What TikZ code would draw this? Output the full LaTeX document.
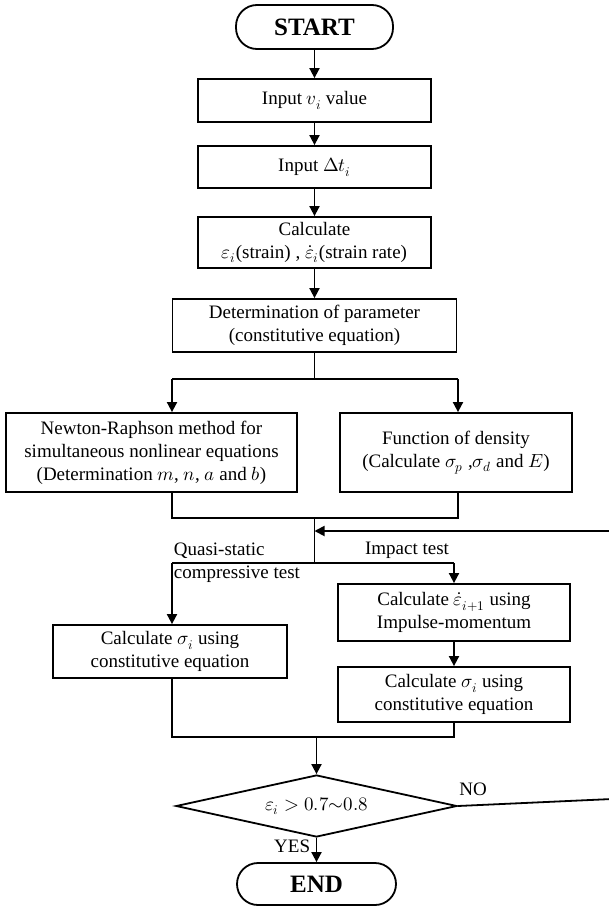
\documentclass[tikz,border=0pt]{standalone}
\usepackage{fontspec}
\usepackage{unicode-math}
\setmainfont{Liberation Serif}
\setmathfont{Latin Modern Math}
\usetikzlibrary{arrows.meta,shapes.geometric}

\tikzset{
  box/.style={draw,rectangle,align=center,inner sep=0pt},
  pill/.style={draw,rectangle,rounded corners=21pt,inner sep=0pt,font=\fontsize{25}{28}\selectfont\bfseries},
  decision/.style={draw,diamond,aspect=4.5,inner sep=0pt},
  lbl/.style={inner sep=1pt,align=left},
  arr/.style={-{Triangle[length=10pt,width=10pt]}}
}

\begin{document}
\begin{tikzpicture}[x=1pt,y=-1pt,line width=1.8pt,font=\fontsize{19}{23}\selectfont]
\useasboundingbox (0,0) rectangle (608,907);

\node (start) at (314.5,27) [pill,minimum width=157pt,minimum height=44pt]{START};
\node (inv) at (314.5,100.5) [box,minimum width=233pt,minimum height=43pt]{Input $v_i$ value};
\node (indt) at (314.5,167) [box,minimum width=233pt,minimum height=42pt]{Input $\Delta t_i$};
\node (calc) at (314.5,242.5) [box,minimum width=233pt,minimum height=51pt]{Calculate\\$\varepsilon_i$(strain) , $\dot{\varepsilon}_i$(strain rate)};
\node (det) at (314.5,325.5) [box,minimum width=284pt,minimum height=53pt]{Determination of parameter\\(constitutive equation)};

\node (newt) at (151.5,452.5) [box,minimum width=291pt,minimum height=79pt]{Newton-Raphson method for\\simultaneous nonlinear equations\\(Determination $m$, $n$, $a$ and $b$)};
\node (dens) at (456,452.5) [box,minimum width=232pt,minimum height=79pt]{Function of density\\(Calculate $\sigma_p$ ,$\sigma_d$ and $E$)};

\node (quasi) at (170,651.5) [box,minimum width=234pt,minimum height=53pt]{Calculate $\sigma_i$ using\\constitutive equation};
\node (imp) at (454,612.5) [box,minimum width=232pt,minimum height=57pt]{Calculate $\dot{\varepsilon}_{i+1}$ using\\Impulse-momentum};
\node (sig) at (454,694.5) [box,minimum width=232pt,minimum height=55pt]{Calculate $\sigma_i$ using\\constitutive equation};

\node (dec) at (316.5,806) [decision,minimum width=281pt,minimum height=62pt]{$\varepsilon_i > 0.7{\sim}0.8$};
\node (end) at (316.5,884) [pill,minimum width=159pt,minimum height=42pt]{END};

% junction points
\coordinate (s) at (314.5,379);
\coordinate (sl) at (172,379);
\coordinate (sr) at (458,379);
\coordinate (jl) at (172,518);
\coordinate (jr) at (458,518);
\coordinate (j) at (314.5,518);
\coordinate (fb) at (314.5,531);
\coordinate (fr) at (612,531);
\coordinate (b) at (314.5,563);
\coordinate (bl) at (172,563);
\coordinate (br) at (454,563);
\coordinate (kl) at (172,737);
\coordinate (kr) at (454,737);
\coordinate (k) at (316.5,737);
\coordinate (nr) at (612,799);

\node (qtxt) at (bl) [lbl,anchor=west]{Quasi-static\\compressive test};
\node (itxt) at (407,550) [lbl]{Impact test};
\node (yes) at (312,846) [lbl,anchor=east]{YES};
\node (no) at (473,789) [lbl]{NO};

\draw[arr] (start) -- (inv);
\draw[arr] (inv) -- (indt);
\draw[arr] (indt) -- (calc);
\draw[arr] (calc) -- (det);

\draw (det) -- (s);
\draw (sl) -- (sr);
\draw[arr] (sl) -- (newt.north -| sl);
\draw[arr] (sr) -- (dens.north -| sr);

\draw (newt.south -| jl) -- (jl) -- (jr) -- (dens.south -| jr);
\draw (j) -- (b);
\draw (bl) -- (br);
\draw[arr] (bl) -- (quasi.north -| bl);
\draw[arr] (br) -- (imp.north);
\draw[arr] (imp) -- (sig);

\draw (quasi.south -| kl) -- (kl) -- (kr) -- (sig.south -| kr);
\draw[arr] (k) -- (dec);
\draw[arr] (dec) -- (end);

\draw (dec.east) -- (nr) -- (fr);
\draw[arr] (fr) -- (fb);

\end{tikzpicture}
\end{document}
